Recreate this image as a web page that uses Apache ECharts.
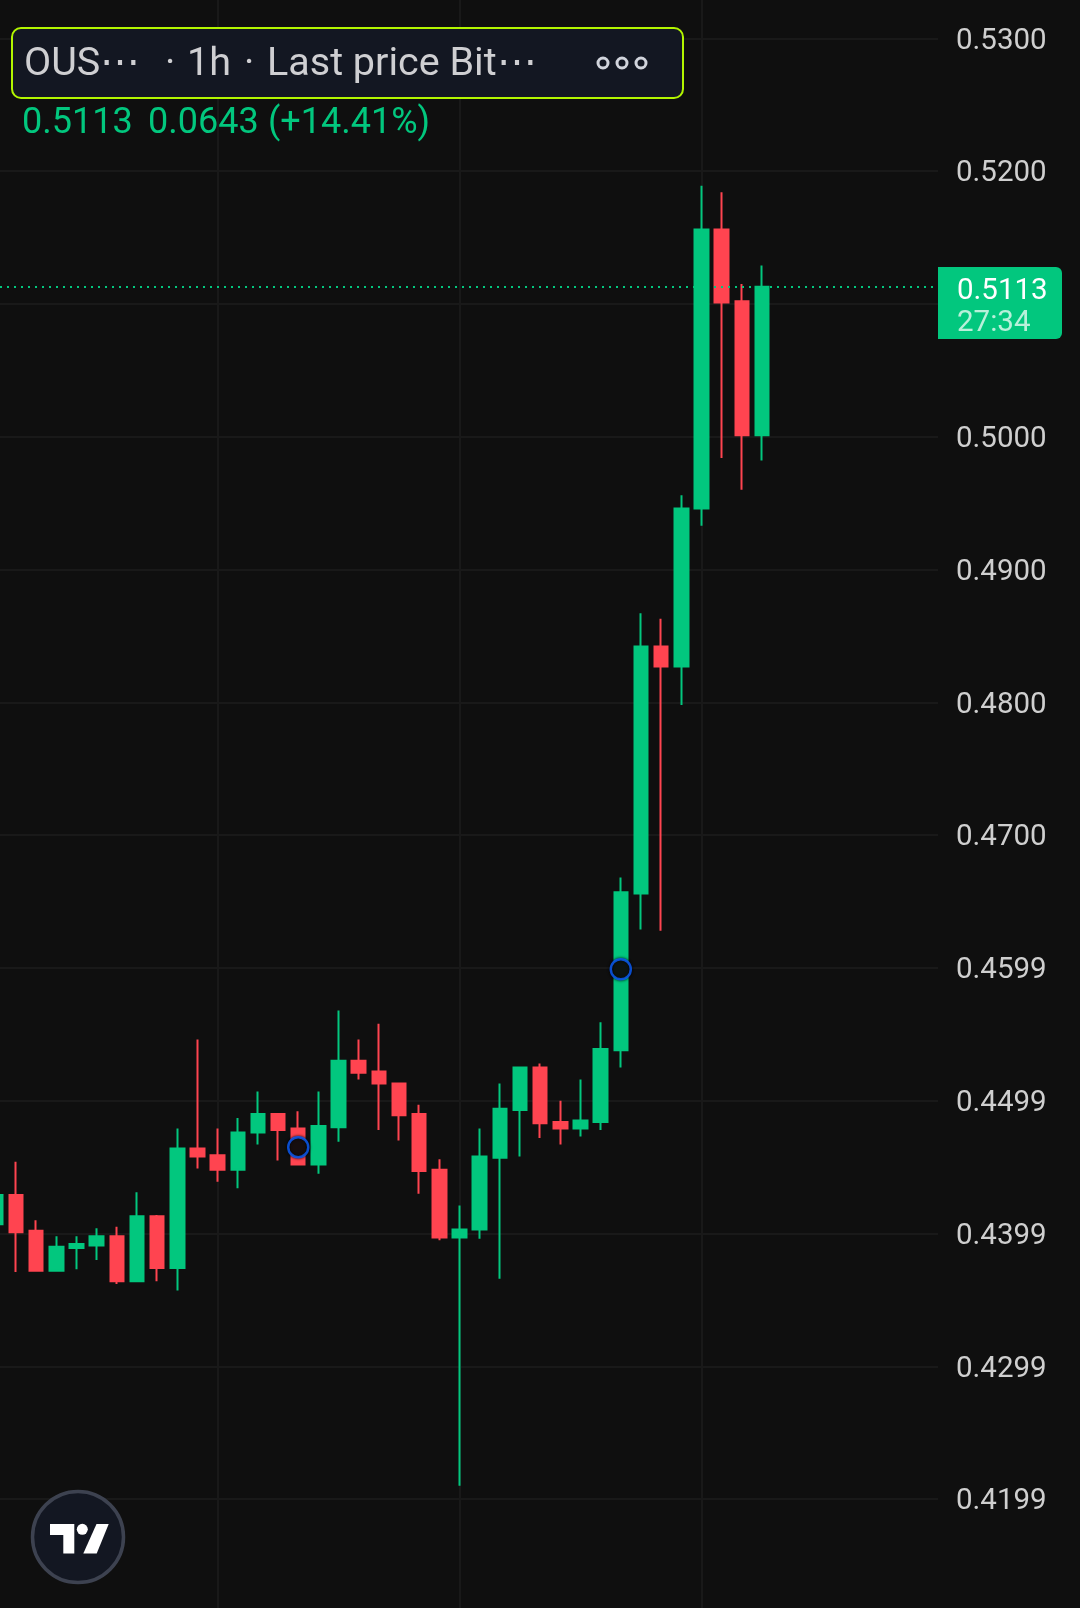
<!DOCTYPE html>
<html>
<head>
<meta charset="utf-8">
<style>html,body{margin:0;padding:0;background:#0f0f0f}#c{width:1080px;height:1608px}</style>
<script src="https://cdn.jsdelivr.net/npm/echarts@6/dist/echarts.min.js"></script>
</head>
<body>
<div id="c"></div>
<script>
const opens  = [.4407,.4429,.4402,.4372,.4389,.4391,.4398,.4364,.4413,.4374,.4464,.4459,.4448,.4476,.4490,.4479,.4452,.4480,.4530,.4522,.4513,.4490,.4448,.4397,.4403,.4457,.4493,.4525,.4484,.4479,.4484,.4538,.4656,.4842,.4827,.4946,.5156,.5102,.5001];
const closes = [.4429,.4401,.4372,.4390,.4392,.4398,.4364,.4413,.4374,.4464,.4458,.4448,.4476,.4490,.4478,.4452,.4481,.4530,.4521,.4513,.4489,.4447,.4397,.4403,.4458,.4494,.4525,.4483,.4479,.4485,.4539,.4657,.4842,.4827,.4946,.5156,.5101,.5001,.5113];
const lows   = [.4407,.4371,.4372,.4372,.4373,.4380,.4362,.4364,.4364,.4357,.4449,.4439,.4434,.4467,.4455,.4452,.4445,.4469,.4516,.4478,.4470,.4430,.4395,.4210,.4396,.4366,.4458,.4472,.4467,.4473,.4478,.4525,.4629,.4628,.4798,.4933,.4984,.4960,.4982];
const highs  = [.4429,.4454,.4410,.4398,.4398,.4404,.4405,.4431,.4414,.4479,.4546,.4479,.4487,.4507,.4490,.4492,.4507,.4568,.4546,.4558,.4513,.4497,.4456,.4421,.4479,.4513,.4525,.4528,.4500,.4516,.4559,.4668,.4867,.4863,.4956,.5189,.5184,.5115,.5129];
const categories = [];
for (let i = 0; i < 48; i++) categories.push('bar' + i);
const verticalBars = ['bar11','bar23','bar35'];
const markerPoints = [['bar15',.4465],['bar31',.4599]];
const lastPrice = .5113;
const tickValues = ['0.53','0.52','0.50','0.49','0.48','0.47','0.46','0.45','0.44','0.43','0.42'];
const tickLabels = ['0.5300','0.5200','0.5000','0.4900','0.4800','0.4700','0.4599','0.4499','0.4399','0.4299','0.4199'];

const GREEN = '#02c77e', RED = '#ff4450', BG = '#0f0f0f', GRID = '#191919', TXT = '#cfcfd2', FONT = 'Roboto, sans-serif';
const candles = opens.map((o, i) => [o, closes[i], lows[i], highs[i]]);
const chart = echarts.init(document.getElementById('c'), null, {renderer:'canvas', width:1080, height:1608});
const yBase = {type:'value', min:.41, max:.54, interval:.01, scale:true};
const txt = (x, y, text, size, fill) => ({type:'text', z:100, silent:true, style:{x, y, text, fill, font:`400 ${size}px ${FONT}`, textVerticalAlign:'middle', textBaseline:'middle'}});
chart.setOption({
  animation:false,
  backgroundColor:BG,
  grid:[
    {left:0, width:938, top:-94.5, height:1726.4, outerBoundsMode:'none'},
    {left:-14.24, width:967.68, top:-94.5, height:1726.4, outerBoundsMode:'none'}
  ],
  xAxis:[
    {type:'value', gridIndex:0, min:0, max:1, show:false},
    {type:'category', gridIndex:1, data:categories, show:false}
  ],
  yAxis:[
    Object.assign({}, yBase, {gridIndex:0, position:'right',
      axisLine:{show:false}, axisTick:{show:false},
      splitLine:{show:true, lineStyle:{color:GRID, width:2}},
      axisLabel:{margin:18, color:'#cfcfcf', fontSize:29.5, fontFamily:FONT, align:'left', verticalAlign:'top', lineHeight:6,
        formatter:v => { const k = tickValues.indexOf(v.toFixed(2)); return k < 0 ? '' : tickLabels[k]; }}
    }),
    Object.assign({}, yBase, {gridIndex:1, show:false, splitLine:{show:false}})
  ],
  series:[
    {type:'line', xAxisIndex:1, yAxisIndex:1, data:[], z:1, silent:true,
      markLine:{silent:true, symbol:'none', animation:false, label:{show:false}, z:1,
        lineStyle:{color:GRID, width:2, type:'solid'},
        data:verticalBars.map(b => ({xAxis:b}))}},
    {type:'candlestick', xAxisIndex:1, yAxisIndex:1, data:candles, barWidth:14, z:3,
      itemStyle:{color:GREEN, color0:RED, borderColor:GREEN, borderColor0:RED, borderWidth:2}},
    {type:'line', xAxisIndex:0, yAxisIndex:0, data:[], z:4, silent:true,
      markLine:{silent:true, symbol:'none', animation:false, precision:4, label:{show:false}, z:4,
        lineStyle:{color:GREEN, width:2, type:[2,5]},
        data:[{yAxis:lastPrice}]}},
    {type:'scatter', xAxisIndex:1, yAxisIndex:1, data:markerPoints, symbolSize:20, z:5,
      itemStyle:{color:BG, borderColor:'#0b5fff', borderWidth:2.5, shadowColor:'#000', shadowBlur:3}}
  ],
  graphic:[
    {type:'rect', z:90, silent:true, shape:{x:12,y:28,width:671,height:70,r:9}, style:{fill:'#131722', stroke:'#b2f500', lineWidth:2}},
    txt(24,65,'OUS⋯',39.5,TXT),
    txt(165,65,'·',39.5,TXT),
    txt(187,65,'1h',39.5,TXT),
    txt(244,65,'·',39.5,TXT),
    txt(267,65,'Last price Bit⋯',39.5,TXT),
    {type:'circle', z:100, silent:true, shape:{cx:603,cy:63,r:5}, style:{fill:'none', stroke:'#d1d4dc', lineWidth:3}},
    {type:'circle', z:100, silent:true, shape:{cx:622,cy:63,r:5}, style:{fill:'none', stroke:'#d1d4dc', lineWidth:3}},
    {type:'circle', z:100, silent:true, shape:{cx:641,cy:63,r:5}, style:{fill:'none', stroke:'#d1d4dc', lineWidth:3}},
    txt(22,124,'0.5113',36,GREEN),
    txt(148,124,'0.0643',36,GREEN),
    txt(268,124,'(+14.41%)',36,GREEN),
    {type:'rect', z:90, silent:true, shape:{x:938,y:267,width:124,height:72,r:[0,6,6,0]}, style:{fill:GREEN}},
    txt(957,292,'0.5113',29.5,'#ffffff'),
    txt(957,324,'27:34',29.5,'#b8f0da'),
    {type:'circle', z:90, silent:true, shape:{cx:78,cy:1537,r:45.5}, style:{fill:'#131722', stroke:'#3d4250', lineWidth:3.5}},
    {type:'polygon', z:100, silent:true, shape:{points:[[50,1524],[74.3,1524],[74.3,1553.5],[63.3,1553.5],[63.3,1535],[50,1535]]}, style:{fill:'#fff'}},
    {type:'circle', z:100, silent:true, shape:{cx:82.3,cy:1529.3,r:5.5}, style:{fill:'#fff'}},
    {type:'polygon', z:100, silent:true, shape:{points:[[96.5,1524],[108.7,1524],[96.7,1553.5],[83.3,1553.5]]}, style:{fill:'#fff'}}
  ]
});
</script>
</body>
</html>
